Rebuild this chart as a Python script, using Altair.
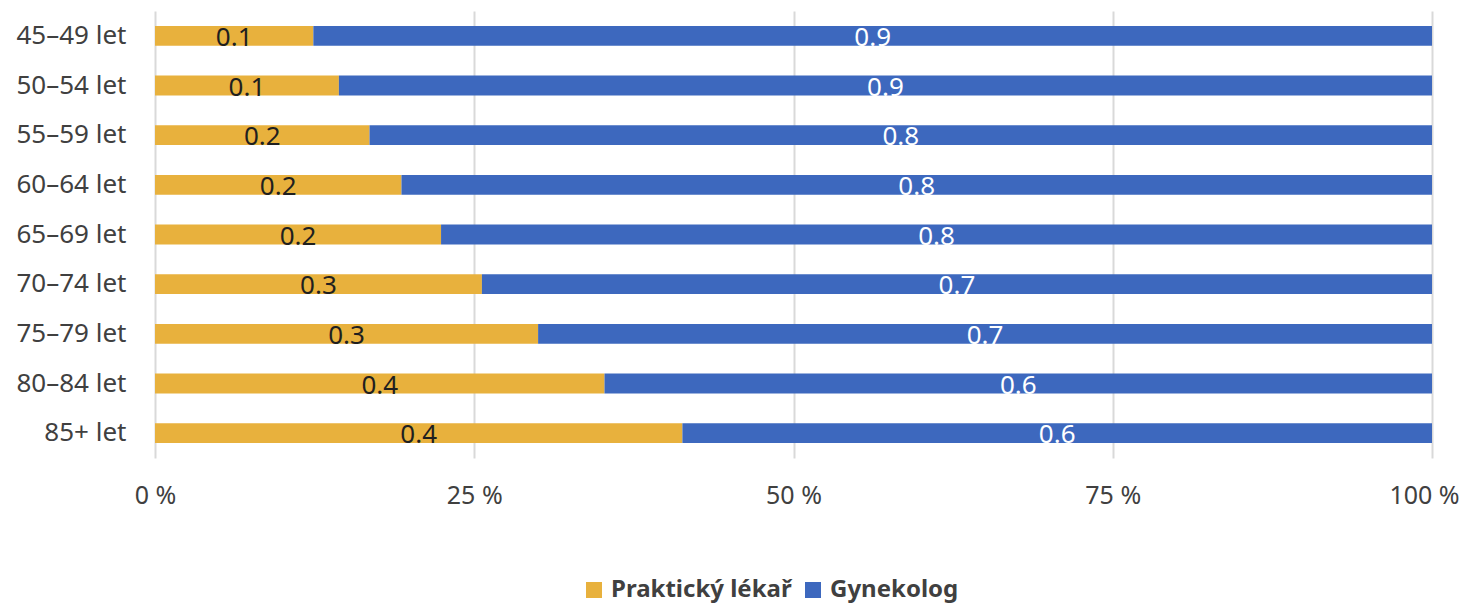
import altair as alt
import pandas as pd

ages = ["45–49 let", "50–54 let", "55–59 let", "60–64 let", "65–69 let",
        "70–74 let", "75–79 let", "80–84 let", "85+ let"]
prakticky = [0.124, 0.144, 0.168, 0.193, 0.224, 0.256, 0.300, 0.352, 0.413]
gynekolog = [0.876, 0.856, 0.832, 0.807, 0.776, 0.744, 0.700, 0.648, 0.587]
series = ["Praktický lékař", "Gynekolog"]
colors = ["#E8B13D", "#3D68BE"]
label_colors = ["#1F1F1F", "#FFFFFF"]

rows = []
for i, a in enumerate(ages):
    rows.append({"age": a, "series": series[0], "value": prakticky[i], "ord": 0})
    rows.append({"age": a, "series": series[1], "value": gynekolog[i], "ord": 1})
df = pd.DataFrame(rows)

FONT = "Noto Sans"

base = alt.Chart(df).transform_stack(
    stack="value", groupby=["age"], as_=["x0", "x1"],
    sort=[alt.SortField("ord", order="ascending")]
).transform_calculate(mid="(datum.x0 + datum.x1) / 2")

yenc = alt.Y("age:N", sort=ages, title=None,
             scale=alt.Scale(paddingInner=0.6, paddingOuter=0.3),
             axis=alt.Axis(labelFont=FONT, labelFontSize=26, labelColor="#404040",
                           labelPadding=29, ticks=False, domain=False, grid=False))

bars = base.mark_bar().encode(
    x=alt.X("x0:Q", title=None,
            scale=alt.Scale(domain=[0, 1], nice=False, zero=True),
            axis=alt.Axis(values=[0, 0.25, 0.5, 0.75, 1],
                          labelExpr="round(datum.value*100) + ' %'",
                          labelFont=FONT, labelFontSize=25, labelColor="#404040",
                          labelOffset={"condition": {"test": "datum.value >= 1", "value": -8},
                                       "value": 0},
                          labelPadding=25, labelFlush=False, ticks=False, domain=False,
                          grid=True, gridColor="#D9D9D9", gridWidth=2)),
    x2="x1:Q",
    y=yenc,
    color=alt.Color("series:N", sort=series,
                    scale=alt.Scale(domain=series, range=colors),
                    legend=alt.Legend(title=None, orient="none", direction="horizontal",
                                      legendX=427, legendY=567, padding=0,
                                      symbolType="square", symbolSize=256,
                                      symbolStrokeWidth=0, symbolOpacity=1,
                                      labelFont=FONT, labelFontSize=24, labelLimit=0,
                                      labelFontWeight="bold", labelColor="#404040",
                                      labelOffset=5, columnPadding=9)),
)

labels = base.mark_text(font=FONT, fontSize=26, baseline="middle", dy=2).encode(
    x=alt.X("mid:Q"),
    y=alt.Y("age:N", sort=ages),
    text=alt.Text("value:Q", format=".1f"),
    color=alt.Color("series:N", scale=alt.Scale(domain=series, range=label_colors),
                    legend=None),
)

chart = alt.layer(bars, labels).resolve_scale(color="independent").properties(
    width=1277, height=447,
    autosize=alt.AutoSizeParams(type="none"),
    padding={"left": 147, "top": 3, "right": 30, "bottom": 147},
).configure_view(stroke=None)

chart.save("out.html", embed_options={"renderer": "svg", "actions": False})
